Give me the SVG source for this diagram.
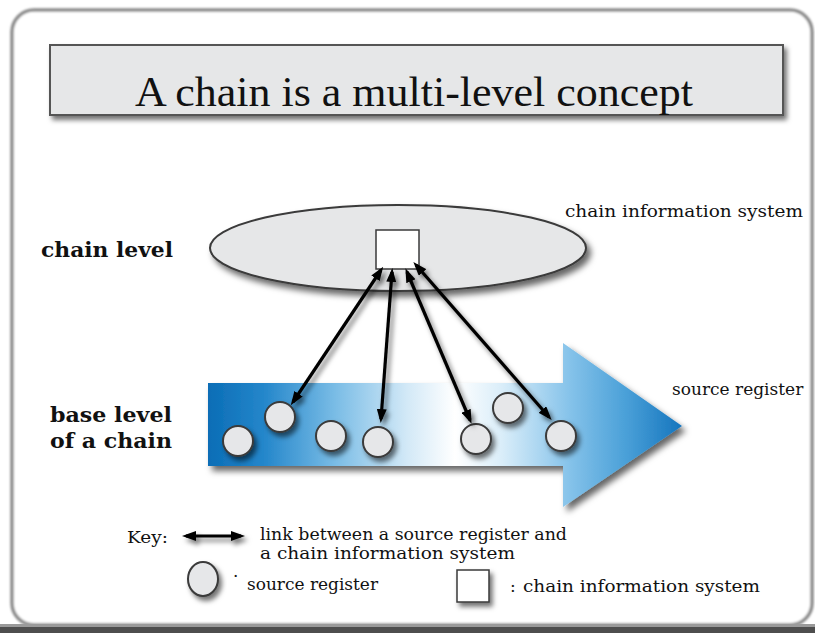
<svg xmlns="http://www.w3.org/2000/svg" width="815" height="633" viewBox="0 0 815 633">
<style>
.lbl{font-family:"DejaVu Serif","Liberation Serif",serif;font-size:17px;fill:#111}
.bold{font-family:"DejaVu Serif","Liberation Serif",serif;font-weight:bold;font-size:20px;fill:#111}
.title{font-family:"Liberation Serif","DejaVu Serif",serif;font-size:42px;fill:#111}
.reg{fill:#e6e7e9;stroke:#3a3a3a;stroke-width:2}
.link{stroke:#000;stroke-width:3.2;fill:none;marker-start:url(#ah);marker-end:url(#ah)}
</style>
<defs>
<filter id="sh" x="-20%" y="-20%" width="150%" height="160%">
<feDropShadow dx="4" dy="5" stdDeviation="3" flood-color="#000" flood-opacity="0.6"/>
</filter>
<filter id="shs" x="-20%" y="-20%" width="150%" height="160%">
<feDropShadow dx="3" dy="4" stdDeviation="2.5" flood-color="#000" flood-opacity="0.55"/>
</filter>
<filter id="shu" filterUnits="userSpaceOnUse" x="0" y="0" width="815" height="633">
<feDropShadow dx="3" dy="4" stdDeviation="2.5" flood-color="#000" flood-opacity="0.55"/>
</filter>
<filter id="fr" x="-5%" y="-5%" width="110%" height="110%">
<feGaussianBlur stdDeviation="0.8"/>
</filter>
<marker id="ah" markerUnits="userSpaceOnUse" markerWidth="14" markerHeight="10" refX="10" refY="5" orient="auto-start-reverse">
<path d="M0,0 L14,5 L0,10 Z" fill="#000"/>
</marker>
<linearGradient id="blue" gradientUnits="userSpaceOnUse" x1="208" y1="0" x2="683" y2="0">
<stop offset="0" stop-color="#0a6db6"/>
<stop offset="0.12" stop-color="#2587cb"/>
<stop offset="0.27" stop-color="#7bbde6"/>
<stop offset="0.42" stop-color="#d3e9f7"/>
<stop offset="0.52" stop-color="#ffffff"/>
<stop offset="0.62" stop-color="#d9edf9"/>
<stop offset="0.76" stop-color="#86c3ea"/>
<stop offset="0.88" stop-color="#4aa0d8"/>
<stop offset="1" stop-color="#1474bd"/>
</linearGradient>
</defs>

<!-- outer frame -->
<g id="frame">
<rect x="12" y="10" width="800" height="615" rx="22" fill="#fff" stroke="#8a8a8a" stroke-width="3.5" filter="url(#fr)"/>
<rect x="0" y="624" width="815" height="3" fill="#9a9a9a"/>
<rect x="0" y="627" width="815" height="6" fill="#4e4e4e"/>
</g>

<g id="title">
<rect x="50" y="45" width="733" height="70" fill="#e6e7e8" stroke="#555" stroke-width="2" filter="url(#shs)"/>
<text class="title" x="135" y="106" textLength="558" lengthAdjust="spacingAndGlyphs">A chain is a multi-level concept</text>
</g>

<g id="level-labels">
<text class="bold" x="41" y="257" textLength="132" lengthAdjust="spacingAndGlyphs">chain level</text>
<text class="bold" x="50" y="422" textLength="122" lengthAdjust="spacingAndGlyphs">base level</text>
<text class="bold" x="50" y="448" textLength="122" lengthAdjust="spacingAndGlyphs">of a chain</text>
</g>

<g id="chain-info-system">
<ellipse cx="398" cy="248" rx="188" ry="43" fill="#e6e7e8" stroke="#3a3a3a" stroke-width="2" filter="url(#sh)"/>
<rect x="376" y="230" width="43" height="39" fill="#fff" stroke="#3a3a3a" stroke-width="1.5"/>
<text class="lbl" x="565" y="217" textLength="238" lengthAdjust="spacingAndGlyphs">chain information system</text>
</g>

<g id="source-register-arrow">
<path d="M208,383 L563,383 L563,343 L682,426 L563,507 L563,466 L208,466 Z" fill="url(#blue)" filter="url(#sh)"/>
<text class="lbl" x="672" y="395">source register</text>
</g>

<g id="registers">
<circle id="r1" class="reg" cx="238" cy="441" r="15" filter="url(#shs)"/>
<circle id="r2" class="reg" cx="280" cy="417" r="15" filter="url(#shs)"/>
<circle id="r3" class="reg" cx="331" cy="436" r="15" filter="url(#shs)"/>
<circle id="r4" class="reg" cx="378" cy="442" r="15" filter="url(#shs)"/>
<circle id="r5" class="reg" cx="476" cy="439" r="15" filter="url(#shs)"/>
<circle id="r6" class="reg" cx="508" cy="408" r="15" filter="url(#shs)"/>
<circle id="r7" class="reg" cx="561" cy="436" r="15" filter="url(#shs)"/>
</g>

<g id="connectors" filter="url(#shu)">
<line class="link" x1="381" y1="270" x2="293" y2="402"/>
<line class="link" x1="392" y1="272" x2="381" y2="419"/>
<line class="link" x1="407" y1="272" x2="470" y2="420"/>
<line class="link" x1="416" y1="265" x2="549" y2="417"/>
</g>

<g id="key">
<text class="lbl" x="127" y="543" textLength="41" lengthAdjust="spacingAndGlyphs">Key:</text>
<g filter="url(#shu)">
<line class="link" x1="186" y1="536" x2="241" y2="536"/>
</g>
<text class="lbl" x="260" y="540" textLength="307" lengthAdjust="spacingAndGlyphs">link between a source register and</text>
<text class="lbl" x="260" y="559" textLength="255" lengthAdjust="spacingAndGlyphs">a chain information system</text>
<ellipse class="reg" cx="203" cy="579" rx="15" ry="17" filter="url(#shs)"/>
<text class="lbl" x="233" y="582" font-size="9">·</text>
<text class="lbl" x="247" y="590" textLength="131" lengthAdjust="spacingAndGlyphs">source register</text>
<rect x="457" y="570" width="32" height="32" fill="#fff" stroke="#3a3a3a" stroke-width="1.5" filter="url(#shs)"/>
<text class="lbl" x="510" y="592">:</text>
<text class="lbl" x="523" y="592" textLength="237" lengthAdjust="spacingAndGlyphs">chain information system</text>
</g>
</svg>
